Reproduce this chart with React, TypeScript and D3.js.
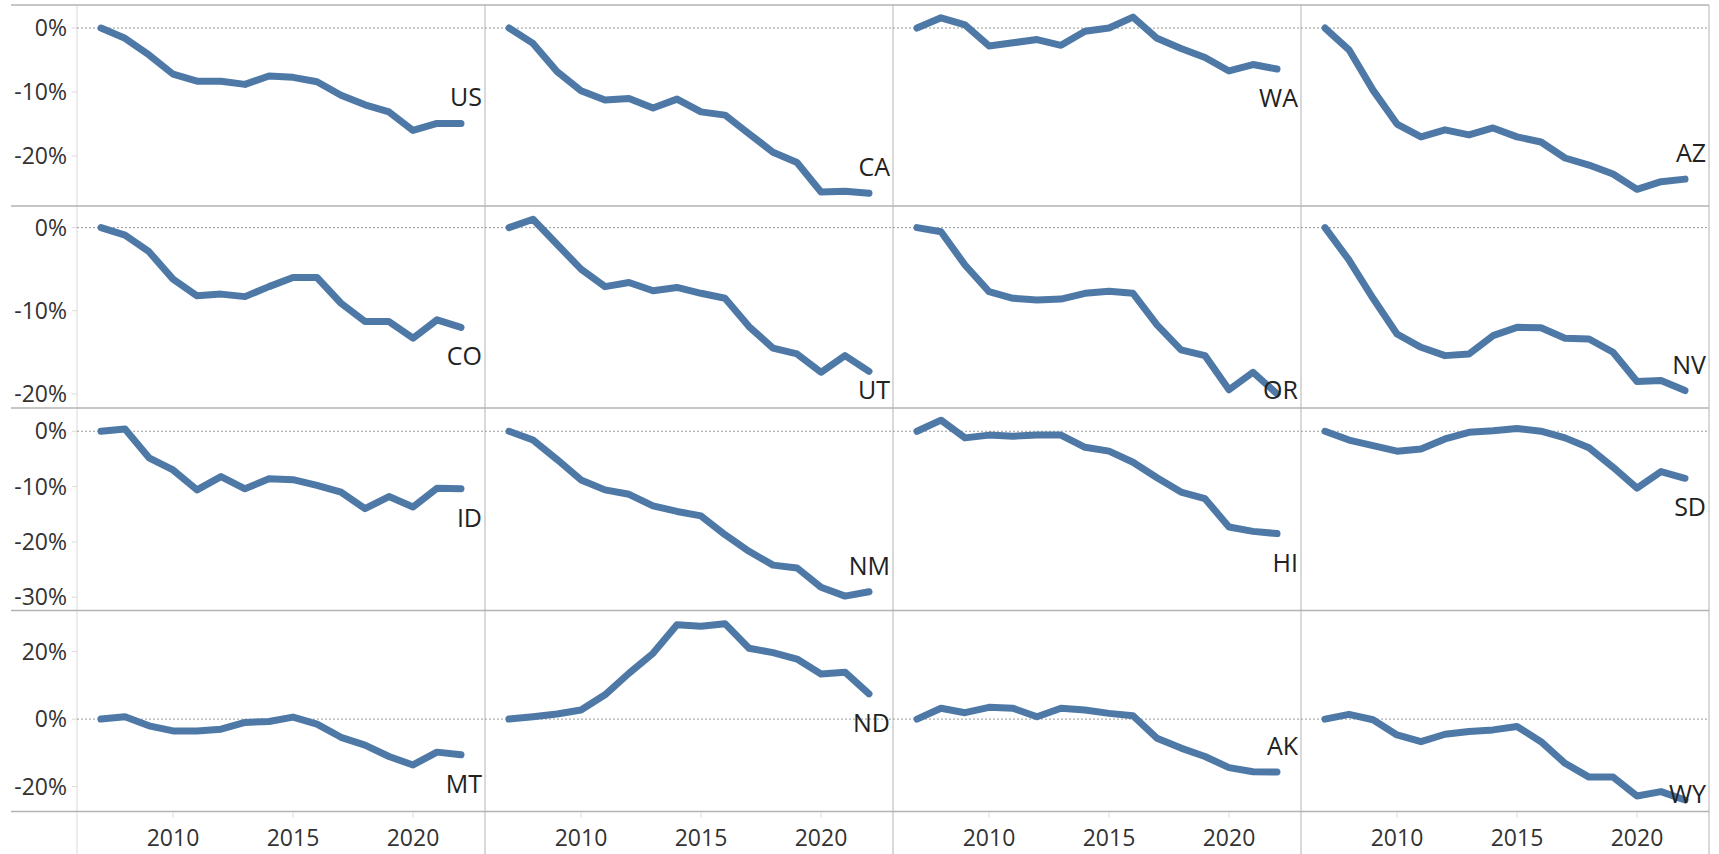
import React from "react";
import * as d3 from "d3";

const YEARS = [2007, 2008, 2009, 2010, 2011, 2012, 2013, 2014, 2015, 2016, 2017, 2018, 2019, 2020, 2021, 2022];

const STATES = ["US", "CA", "WA", "AZ", "CO", "UT", "OR", "NV", "ID", "NM", "HI", "SD", "MT", "ND", "AK", "WY"];

const US = [0, -1.6, -4.2, -7.2, -8.3, -8.3, -8.8, -7.5, -7.7, -8.4, -10.5, -12.0, -13.1, -16.0, -14.9, -14.9];
const CA = [0, -2.4, -6.8, -9.8, -11.25, -11.0, -12.5, -11.1, -13.1, -13.6, -16.5, -19.4, -21.0, -25.6, -25.5, -25.8];
const WA = [0, 1.6, 0.5, -2.8, -2.3, -1.8, -2.7, -0.5, 0, 1.7, -1.6, -3.2, -4.6, -6.7, -5.7, -6.4];
const AZ = [0, -3.4, -9.7, -15.0, -17.0, -15.9, -16.7, -15.6, -17.0, -17.8, -20.3, -21.4, -22.8, -25.2, -24.0, -23.6];
const CO = [0, -0.9, -2.9, -6.2, -8.2, -8.0, -8.3, -7.1, -6.0, -6.0, -9.1, -11.3, -11.3, -13.3, -11.1, -12.0];
const UT = [0, 1.0, -2.0, -5.0, -7.1, -6.6, -7.6, -7.2, -7.9, -8.5, -11.9, -14.5, -15.2, -17.4, -15.4, -17.3];
const OR = [0, -0.5, -4.5, -7.7, -8.5, -8.7, -8.6, -7.9, -7.65, -7.9, -11.7, -14.7, -15.4, -19.5, -17.4, -20.0];
const NV = [0, -3.9, -8.5, -12.8, -14.4, -15.4, -15.2, -13.0, -12.0, -12.05, -13.3, -13.4, -15.0, -18.5, -18.4, -19.6];
const ID = [0, 0.4, -4.8, -7.0, -10.6, -8.2, -10.4, -8.6, -8.75, -9.8, -11.0, -14.0, -11.8, -13.7, -10.3, -10.4];
const NM = [0, -1.6, -5.1, -8.8, -10.6, -11.4, -13.5, -14.5, -15.3, -18.7, -21.7, -24.2, -24.7, -28.2, -29.8, -29.0];
const HI = [0, 2.0, -1.2, -0.7, -0.9, -0.7, -0.7, -2.9, -3.6, -5.6, -8.4, -11.0, -12.2, -17.3, -18.1, -18.5];
const SD = [0, -1.6, -2.6, -3.6, -3.2, -1.4, -0.2, 0.1, 0.5, 0, -1.2, -3.0, -6.5, -10.3, -7.3, -8.5];
const MT = [0, 0.7, -2.0, -3.5, -3.5, -3.0, -1.0, -0.7, 0.6, -1.5, -5.4, -7.7, -11.1, -13.6, -9.8, -10.6];
const ND = [0, 0.7, 1.5, 2.7, 7.2, 13.6, 19.5, 28.0, 27.5, 28.3, 21.0, 19.7, 17.8, 13.4, 13.9, 7.5];
const AK = [0, 3.2, 1.9, 3.5, 3.2, 0.7, 3.2, 2.7, 1.7, 1.0, -5.7, -8.6, -11.1, -14.4, -15.6, -15.7];
const WY = [0, 1.4, -0.2, -4.7, -6.7, -4.5, -3.7, -3.2, -2.2, -6.7, -13.1, -17.2, -17.2, -22.8, -21.5, -24.0];

const SERIES = [US, CA, WA, AZ, CO, UT, OR, NV, ID, NM, HI, SD, MT, ND, AK, WY];

const ROW_TICKS = [
  [0, -10, -20],
  [0, -10, -20],
  [0, -10, -20, -30],
  [20, 0, -20],
];
const ROW_DOMAINS = [
  [-27.8, 3.6],
  [-21.7, 2.6],
  [-32.4, 4.2],
  [-27.4, 32.2],
];
const X_TICKS = [2010, 2015, 2020];
const X_DOMAIN = [2006, 2023];

const LABEL_ABOVE = new Set(["US", "CA", "AZ", "NV", "NM", "AK"]);

// layout
const W = 1719;
const H = 854;
const LEFT = 77;
const COL_W = 408;
const ROW_EDGES = [5, 206, 408, 610.5, 811.5];
const FONT = "'Open Sans', 'Noto Sans', sans-serif";
const LINE_COLOR = "#4e79a7";

export default function App() {
  const lineGen = (xs: d3.ScaleLinear<number, number>, ys: d3.ScaleLinear<number, number>) =>
    d3
      .line<number>()
      .x((_, i) => xs(YEARS[i]))
      .y((d) => ys(d));

  const right = LEFT + COL_W * 4;

  return (
    <div style={{ position: "absolute", left: 0, top: 0 }}>
      <svg width={W} height={H} style={{ display: "block", background: "#fff" }}>
        {/* vertical column lines */}
        {[0, 1, 2, 3, 4].map((c) => (
          <line
            key={"v" + c}
            x1={LEFT + c * COL_W}
            x2={LEFT + c * COL_W}
            y1={ROW_EDGES[0]}
            y2={H}
            stroke="#d9d9d9"
            strokeWidth={c === 0 ? 1 : 2}
          />
        ))}
        {/* horizontal row lines */}
        {ROW_EDGES.map((y, i) => (
          <line key={"h" + i} x1={11} x2={right} y1={y} y2={y} stroke="#b3b3b3" strokeWidth={1.5} />
        ))}
        {/* x ticks */}
        {[0, 1, 2, 3].map((c) => {
          const xs = d3.scaleLinear().domain(X_DOMAIN).range([LEFT + c * COL_W, LEFT + (c + 1) * COL_W]);
          return (
            <g key={"xt" + c}>
              {X_TICKS.map((t) => (
                <g key={t}>
                  <line x1={xs(t)} x2={xs(t)} y1={ROW_EDGES[4] + 1} y2={ROW_EDGES[4] + 6} stroke="#d9d9d9" strokeWidth={1} />
                  <text x={xs(t)} y={846} textAnchor="middle" fontFamily={FONT} fontSize={23} fill="#333">
                    {t}
                  </text>
                </g>
              ))}
            </g>
          );
        })}
        {/* rows */}
        {[0, 1, 2, 3].map((r) => {
          const ys = d3.scaleLinear().domain(ROW_DOMAINS[r]).range([ROW_EDGES[r + 1], ROW_EDGES[r]]);
          return (
            <g key={"r" + r}>
              {ROW_TICKS[r].map((t) => (
                <g key={t}>
                  <line x1={72} x2={LEFT} y1={ys(t)} y2={ys(t)} stroke="#d9d9d9" strokeWidth={1} />
                  <text
                    x={67}
                    y={ys(t)}
                    dy="0.35em"
                    textAnchor="end"
                    fontFamily={FONT}
                    fontSize={23}
                    fill="#333"
                  >
                    {t + "%"}
                  </text>
                </g>
              ))}
              <line
                x1={LEFT}
                x2={right}
                y1={ys(0)}
                y2={ys(0)}
                stroke="#999"
                strokeWidth={1}
                strokeDasharray="2 2"
              />
              {[0, 1, 2, 3].map((c) => {
                const idx = r * 4 + c;
                const name = STATES[idx];
                const data = SERIES[idx];
                const x0 = LEFT + c * COL_W;
                const xs = d3.scaleLinear().domain(X_DOMAIN).range([x0, x0 + COL_W]);
                const endY = ys(data[data.length - 1]);
                const labelY = LABEL_ABOVE.has(name)
                  ? endY - 17
                  : Math.min(endY + 38, ROW_EDGES[r + 1] - 9);
                return (
                  <g key={name}>
                    <path
                      d={lineGen(xs, ys)(data) || ""}
                      fill="none"
                      stroke={LINE_COLOR}
                      strokeWidth={7}
                      strokeLinecap="round"
                      strokeLinejoin="round"
                    />
                    <text
                      x={x0 + COL_W - 3}
                      y={labelY}
                      textAnchor="end"
                      fontFamily={FONT}
                      fontSize={25}
                      fill="#222"
                    >
                      {name}
                    </text>
                  </g>
                );
              })}
            </g>
          );
        })}
      </svg>
    </div>
  );
}
